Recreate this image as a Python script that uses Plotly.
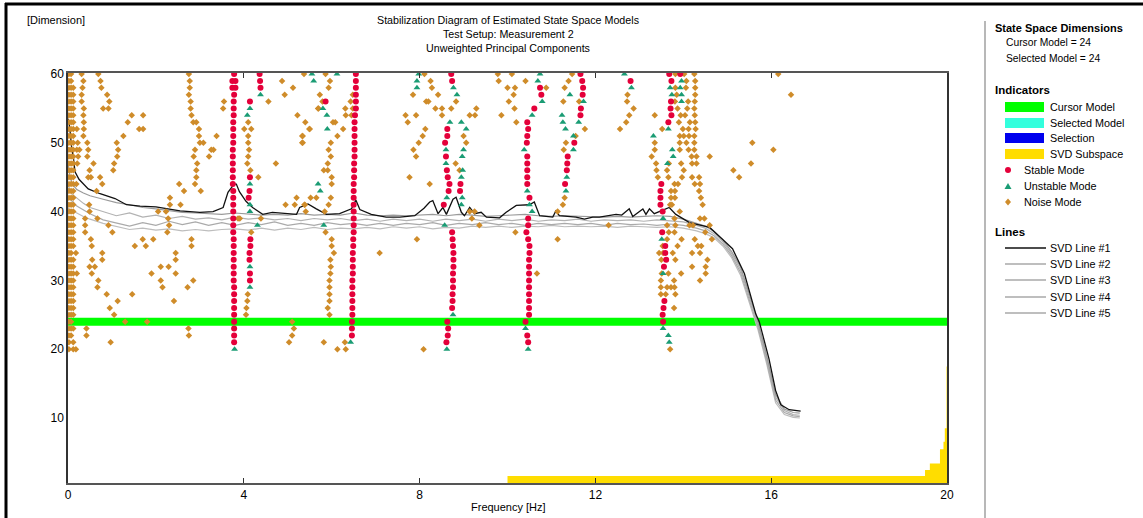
import plotly.graph_objects as go

# ---------------- DATA ----------------
# Stable modes (frequency Hz, model order)
stable_modes = [
    (3.78,60),(3.74,59),(3.81,59),(3.74,58),(3.81,58),(3.78,57),(3.77,56),(3.77,55),(3.77,54),(3.76,53),
    (3.76,52),(3.76,51),(3.76,50),(3.75,49),(3.75,48),(3.75,47),(3.75,46),(3.75,45),(3.75,44),(3.76,43),
    (3.76,42),(3.76,41),(3.76,40),(3.76,39),(3.76,38),(3.76,37),(3.77,36),(3.77,35),(3.77,34),(3.77,33),
    (3.77,32),(3.77,31),(3.77,30),(3.78,29),(3.78,28),(3.78,27),(3.78,26),(3.78,25),(3.78,24),(3.78,23),
    (3.78,22),(3.78,21),
    (4.36,60),(4.37,59),(4.38,58),(4.14,56),(4.14,45),(4.13,43),(4.11,42),(4.15,36),(4.15,35),(4.13,34),
    (4.13,33),(4.14,31),(4.14,30),
    (5.86,56),
    (6.55,60),(6.55,59),(6.55,58),(6.55,57),(6.55,56),(6.55,55),(6.53,54),(6.52,53),(6.52,52),(6.52,51),
    (6.52,50),(6.52,49),(6.52,48),(6.51,47),(6.51,46),(6.51,45),(6.5,44),(6.5,43),(6.5,42),(6.5,41),
    (6.5,40),(6.5,39),(6.5,38),(6.5,37),(6.49,36),(6.49,35),(6.48,34),(6.48,33),(6.48,32),(6.48,31),
    (6.47,30),(6.47,29),(6.47,28),(6.47,27),(6.47,26),(6.47,25),(6.46,24),(6.46,23),(6.46,22),
    (8.72,60),(8.74,59),(8.63,52),(8.63,51),(8.58,50),(8.6,48),(8.62,46),(8.64,45),(8.68,44),(8.66,43),
    (8.55,41),(8.93,44),(8.92,43),(8.74,37),(8.75,36),(8.76,35),(8.77,34),(8.77,33),(8.77,32),(8.76,31),
    (8.76,30),(8.76,29),(8.75,28),(8.75,27),(8.74,26),(8.63,24),(8.65,23),(8.64,22),(8.61,21),
    (10.74,58),(10.77,57),(10.61,55),(10.45,53),(10.47,52),(10.45,51),(10.44,50),(10.45,48),(10.45,47),
    (10.45,46),(10.45,45),(10.45,44),(10.5,42),(10.47,39),(10.47,38),(10.43,37),(10.47,36),(10.5,35),
    (10.5,34),(10.49,33),(10.49,32),(10.49,31),(10.49,30),(10.49,29),(10.49,28),(10.49,27),(10.49,26),
    (10.49,25),(10.41,24),(10.45,22),(10.47,21),
    (11.66,60),(11.7,59),(11.72,58),(11.71,57),(11.67,55),(11.66,54),(11.52,50),(11.37,48),(11.36,47),
    (11.35,46),(11.31,44),
    (13.68,60),(13.93,60),(12.8,59),(13.73,59),(13.72,56),(13.71,55),(13.73,54),(13.66,53),(13.5,44),
    (13.48,43),(13.48,42),(13.48,41),(13.53,40),(13.52,37),(13.59,35),(13.59,34),(13.61,33),(13.56,32),
    (13.57,27),(13.55,26),(13.53,25),(13.54,24),
]

# Unstable modes (frequency Hz, model order)
unstable_modes = [
    (3.79,20),
    (4.38,57),(4.14,55),(4.08,54),(4.14,44),(4.14,41),(4.14,40),(4.31,38),(4.14,32),(4.14,29),
    (5.55,60),(5.59,59),(6.12,60),(5.8,55),(5.89,54),(5.9,52),(5.69,44),(5.74,43),(5.82,38),(6.43,21),
    (7.98,60),(7.94,59),(7.94,58),(8.85,57),(8.77,58),
    (8.69,53),(8.95,53),(9.06,52),(8.6,49),(8.6,47),(9.0,49),(8.97,48),(8.98,46),(8.95,45),(8.97,42),
    (8.95,41),(8.62,42),(8.57,38),(8.76,25),(8.62,20),
    (10.74,60),(10.69,59),(10.79,56),(10.56,54),(10.38,49),(10.45,43),(10.5,41),(10.56,40),(10.41,23),
    (10.47,20),
    (11.42,57),(11.73,56),(11.62,53),(11.5,51),(11.5,49),(11.32,52),(11.26,53),(11.24,54),(11.35,45),
    (11.33,43),
    (12.66,60),(12.82,58),(13.96,59),(13.7,58),(13.93,58),(13.74,57),(13.96,57),(13.96,56),(13.66,52),
    (13.32,51),(13.75,49),(13.77,48),(13.64,47),(13.54,39),(13.51,36),(13.54,31),(13.54,23),(13.66,22),
    (13.68,21),
]

# Noise modes near 0 Hz: three dense columns (frequency, list of orders)
noise_edge_columns = [
    (0.02, [20,21,22,23,24,25,26,27,28,29,30,31,32,33,34,35,36,37,38,39,40,
            41,42,43,44,45,46,47,48,49,50,51,52,53,54,55,56,57,58,59,60]),
    (0.07, [22,23,24,25,26,27,28,29,30,31,32,33,34,35,36,37,38,39,40,
            41,42,43,44,45,46,47,48,49,50,51,52,53,54,55,56,57,58,59,60]),
    (0.12, [20,21,23,25,26,27,28,29,30,31,32,33,35,36,37,38,39,40,
            41,42,43,44,45,46,47,48,49,50,51,52,53,54,55,56,57,58]),
]

# Other noise modes (frequency Hz, model order)
noise_modes = [
    (0.31,60),(0.69,60),(0.35,59),(0.74,59),(0.33,58),(0.76,58),(0.31,57),(0.89,57),(0.31,56),(0.94,56),
    (0.36,55),(0.80,55),(0.92,55),(0.35,54),(1.45,54),(1.71,54),(0.36,53),(1.36,53),(0.36,52),(1.62,52),
    (1.71,52),(0.35,51),(1.26,51),(0.44,50),(1.11,50),(0.26,49),(0.46,49),(1.14,49),(0.23,48),(0.44,48),
    (1.12,48),(0.21,47),(0.58,47),(1.05,47),(0.49,46),(1.03,46),(0.46,45),(0.52,45),(0.73,45),(0.78,44),
    (0.65,43),(0.48,41),(0.49,40),(0.39,39),(0.67,39),(0.39,38),(0.92,38),(0.39,37),(1.01,37),(0.52,36),
    (0.54,35),(0.18,34),(0.78,34),(0.55,33),(0.78,33),(0.49,32),(0.61,32),(0.54,31),(0.69,30),(0.67,29),
    (0.88,28),(1.46,28),(1.13,27),(0.95,26),(1.05,25),(1.3,24),(1.8,24),(0.42,23),(0.42,22),(0.97,21),
    (0.18,20),(0.2,49),(0.22,50),(0.2,52),(0.19,44),(0.2,31),
    (2.53,44),(2.64,43),(2.32,42),(2.32,41),(2.56,41),(2.05,40),(2.23,40),(2.28,39),(2.3,38),(2.26,37),
    (1.7,36),(1.94,36),(1.52,35),(1.77,35),(2.45,34),(2.45,33),(2.11,32),(2.29,32),(1.9,31),(2.45,31),
    (2.11,30),(2.15,29),(2.72,29),(2.41,27),(2.74,23),
    (2.75,60),(2.77,59),(2.77,58),(2.75,57),(2.79,56),(2.79,55),(2.81,54),(2.85,53),(2.92,53),(2.98,52),
    (2.98,51),(3.0,50),(3.08,50),(2.89,49),(2.86,48),(3.21,48),(2.94,47),(2.92,46),(2.92,45),(2.89,44),
    (3.02,43),(3.26,49),(3.31,49),(3.38,51),(3.55,56),(3.53,55),(2.85,30),(2.81,36),(2.81,35),(2.75,22),
    (3.87,39),
    (4.87,59),(4.93,57),(5.12,58),(4.56,56),(5.22,54),(4.73,47),(4.33,45),(4.95,41),(5.16,41),(5.2,42),
    (4.39,39),(5.03,21),(5.1,22),(5.1,24),(5.14,23),(5.37,60),(5.69,55),(5.4,53),(5.49,52),(5.34,51),
    (5.34,50),(5.52,42),(5.65,42),(5.39,41),(4.17,37),
    (4.01,52),(4.1,53),(4.1,51),(4.1,50),(4.12,49),(4.1,48),(4.08,47),(4.15,46),(4.17,52),(4.09,28),
    (4.08,27),(4.06,26),(4.05,25),(3.91,39),
    (5.86,60),(5.96,59),(5.93,58),(5.73,57),(5.79,56),(5.7,55),(5.5,52),(5.33,51),(5.33,50),(5.98,50),
    (5.93,49),(5.98,48),(5.91,47),(5.82,46),(5.91,46),(6.0,45),(6.0,44),(5.98,42),(5.38,41),(5.93,41),
    (5.41,40),(5.84,40),(5.86,37),(6.0,36),(6.0,35),(6.05,34),(5.97,33),(5.98,32),(5.97,31),(5.95,30),
    (5.95,29),(5.95,28),(5.95,27),(5.91,26),(5.95,25),(5.82,21),(6.3,21),(6.13,20),(6.32,20),(7.09,34),
    (6.26,52),(6.13,51),(6.03,53),(6.08,53),(6.31,55),(6.48,55),(6.32,54),(6.45,54),(6.43,56),(6.48,57),
    (8.11,60),(8.25,59),(8.28,58),(7.85,57),(8.42,57),(8.15,56),(8.2,56),(7.68,54),(7.92,54),(7.73,53),
    (8.36,55),(8.51,55),(8.72,55),(8.83,56),(8.13,52),(8.07,51),(7.98,50),(7.86,49),(7.92,48),(7.77,45),
    (8.23,44),(7.94,36),(8.09,20),(8.51,54),(8.82,47),(8.91,46),(9.29,55),(9.14,54),(9.26,54),(9.06,50),
    (9.0,51),(9.36,38),(9.19,39),(9.14,40),(9.25,40),
    (9.78,60),(10.1,60),(9.8,59),(10.0,58),(10.17,58),(10.14,57),(10.03,56),(10.16,55),(9.86,54),(10.2,53),
    (10.41,59),(10.88,58),(11.47,60),(11.39,59),(11.3,58),(11.63,56),(11.27,56),(11.76,52),(11.55,51),
    (11.33,50),(11.28,49),(11.3,42),(11.26,41),(11.14,40),(11.14,36),(10.67,31),(10.18,37),
    (14.25,60),(14.27,59),(14.27,58),(14.27,57),(14.26,56),(14.25,55),(14.26,54),(14.27,53),(14.28,52),
    (14.25,51),(14.25,50),(14.25,49),(14.3,48),(14.3,47),(14.36,45),(14.38,44),(14.36,43),(14.4,42),
    (14.44,41),(14.48,39),
    (14.02,60),(14.07,59),(14.06,58),(14.11,56),(14.09,55),(14.04,54),(14.15,53),(14.12,52),(14.13,51),
    (14.07,50),(14.12,49),(14.19,48),(14.2,47),(14.2,45),(14.26,44),
    (13.82,60),(13.82,58),(13.85,57),(13.81,56),(13.87,55),(13.94,54),(13.9,53),(13.99,52),(13.92,51),
    (14.01,51),(13.92,50),(13.92,49),(13.95,47),(14.01,46),(13.97,45),(13.8,44),(13.88,44),(13.72,43),
    (13.81,43),(13.72,42),(13.81,42),(13.7,41),(13.74,41),(13.92,40),(13.8,39),(13.82,38),(13.8,37),
    (13.96,36),(13.87,35),(13.76,34),(13.82,33),(13.95,31),(13.79,30),(13.72,29),(13.8,29),(13.82,28),
    (13.79,26),
    (13.67,47),(13.63,46),(13.66,45),(13.63,38),(13.67,37),(13.63,36),(13.54,34),(13.66,31),(13.63,29),
    (13.6,28),
    (13.35,54),(13.52,52),(13.35,50),(13.35,49),(13.28,48),(13.38,47),(13.39,46),(13.42,45),(13.45,34),
    (13.5,33),(13.53,35),(13.49,30),(13.49,29),(13.49,28),(13.51,31),
    (14.5,37),(14.65,36),(14.6,38),(14.55,33),(14.51,32),(14.51,31),(14.38,30),(14.38,34),(14.2,34),
    (14.2,32),(14.33,35),(14.41,35),(14.26,36),(14.22,38),(14.14,38),(14.38,39),
    (16.16,60),(16.45,57),(15.57,50),(16.05,49),(15.54,47),(15.14,46),(15.27,45),(14.6,48),
    (12.3,38),(12.56,52),(12.7,53),(12.72,56),(12.87,55),(12.73,57),(12.77,54),(13.7,20),
]

# SVD lines
svd1_freq = [0.0,0.02,0.05,0.08,0.12,0.16,0.25,0.46,0.73,1.07,1.33,1.64,2.0,2.24,2.55,3.0,3.3,3.53,3.64,
             3.78,3.83,3.9,4.05,4.2,4.43,4.65,4.95,5.2,5.27,5.46,5.65,5.88,6.18,6.45,6.55,6.64,6.9,7.24,
             7.55,7.89,8.1,8.23,8.3,8.42,8.53,8.61,8.76,8.83,8.95,9.02,9.14,9.25,9.4,9.52,9.82,9.97,10.2,
             10.5,10.61,10.73,11.03,11.1,11.18,11.56,11.75,11.94,12.09,12.47,12.6,12.77,12.85,13.08,13.15,
             13.23,13.34,13.49,13.68,13.83,14.14,14.6,14.78,14.97,15.12,15.39,15.65,15.73,15.95,16.1,16.22,
             16.41,16.67]
svd1_vals = [53.5,53.2,51.5,49.5,48.0,45.8,44.7,43.3,42.6,41.9,41.0,40.8,40.7,40.4,40.1,39.9,40.0,40.6,42.8,
             44.0,44.0,42.9,41.5,40.6,39.6,39.9,39.7,39.6,40.6,41.1,40.4,39.6,39.7,40.4,41.7,40.3,39.6,39.2,
             39.2,39.4,40.5,41.4,41.6,39.7,40.6,39.6,41.8,42.1,39.9,39.4,40.6,39.7,39.9,39.2,39.1,39.9,40.9,
             41.0,41.4,39.4,39.2,40.1,39.4,39.2,38.9,39.2,39.2,39.6,39.5,40.4,39.3,40.4,39.6,
             40.4,39.7,40.1,40.6,39.6,38.4,37.7,36.7,35.5,34.6,31.0,25.1,23.96,18.6,14.0,11.9,
             11.2,11.0]

svd_grid = [0,0.05,0.1,0.2,0.35,0.5,0.8,1.1,1.4,1.7,2.0,2.3,2.6,2.9,3.2,3.5,3.8,4.1,4.4,4.7,5.0,5.3,5.6,5.9,
            6.2,6.5,6.8,7.1,7.4,7.7,8.0,8.3,8.6,8.9,9.2,9.5,9.8,10.1,10.4,10.7,11.0,11.3,11.6,11.9,12.2,
            12.5,12.8,13.1,13.4,13.7,14.0,14.3,14.5,14.7,14.9,15.1,15.3,15.5,15.7,15.9,16.1,16.3,16.5,16.65]
svd2_vals = [47.0,45.0,44.0,43.2,42.7,42.3,41.8,41.3,41.0,40.6,40.4,40.1,39.9,39.8,39.7,39.6,
             39.8,39.6,39.5,39.6,39.5,39.7,39.5,39.6,39.5,39.8,39.5,39.4,39.5,39.4,39.5,39.6,39.4,39.6,
             39.5,39.3,39.4,39.5,39.6,39.4,39.3,39.4,39.3,39.3,39.2,39.3,39.2,39.3,39.4,39.3,38.9,38.3,
             37.9,37.1,35.9,34.2,32.0,28.0,24.0,19.0,13.4,11.3,10.8,10.7]
svd3_vals = [44.0,43.0,42.5,42.0,41.2,40.6,40.0,39.4,39.8,39.2,39.5,39.0,39.3,38.9,39.1,38.8,
             39.2,38.9,39.1,38.8,39.0,38.7,39.0,38.8,39.0,38.7,38.9,38.6,38.9,38.7,38.9,38.6,38.9,38.7,
             38.9,38.6,38.9,38.7,38.9,38.6,38.8,38.7,38.9,38.6,38.8,38.7,38.8,38.6,38.8,38.7,38.5,38.0,
             37.6,36.8,35.6,33.9,31.6,27.6,23.6,18.6,13.0,11.1,10.5,10.4]
svd4_vals = [42.0,41.8,41.5,40.8,40.2,39.7,38.8,38.3,37.9,38.4,38.0,38.6,38.1,38.5,38.0,38.4,
             38.0,38.4,38.1,38.5,38.0,38.3,38.0,38.4,38.1,38.3,38.0,38.3,38.0,38.3,38.1,38.4,38.0,38.3,
             38.1,38.4,38.1,38.3,38.0,38.3,38.1,38.3,38.1,38.3,38.0,38.3,38.1,38.2,38.0,38.2,38.0,37.6,
             37.2,36.5,35.3,33.6,31.2,27.2,23.2,18.2,12.6,10.8,10.3,10.2]
svd5_vals = [40.5,40.3,40.1,39.8,39.3,38.9,38.3,37.8,37.4,37.6,37.3,37.5,37.2,37.4,37.2,37.4,
             37.5,37.3,37.6,37.3,37.6,37.4,37.7,37.4,37.6,37.5,37.7,37.5,37.8,37.6,37.8,37.5,37.7,37.6,
             37.9,37.7,37.9,37.7,37.9,37.8,38.0,37.8,37.9,37.8,37.9,37.7,37.9,37.8,37.7,37.8,37.6,37.2,
             36.8,36.2,35.0,33.3,30.8,26.8,22.8,17.8,12.2,10.5,10.1,10.0]

# SVD subspace (step heights)
subspace_freq = [10.0, 19.5, 19.61, 19.84, 19.92, 19.95, 19.99, 20.0]
subspace_vals = [1.57, 2.44, 3.4, 5.45, 6.55, 8.5, 17.5, 17.5]

cursor_model = 24
selected_model = 24

x_ticks = [0, 4, 8, 12, 16, 20]
y_ticks = [10, 20, 30, 40, 50, 60]

# ---------------- STYLE / LAYOUT ----------------
W, H = 1143, 518
PL, PR, PT, PB = 68, 947, 73, 483
FONT = "Arial, Liberation Sans, sans-serif"
C_RED = "#E4003A"
C_GREEN = "#1A9C74"
C_NOISE = "#CF8C2A"

def px(x):
    return (x - PL) / (PR - PL)

def py(y):
    return (PB - y) / (PB - PT)

fig = go.Figure()

# SVD subspace (yellow)
fig.add_trace(go.Scatter(x=subspace_freq, y=subspace_vals, mode="lines", line=dict(width=0, shape="hv"),
                         fill="tozeroy", fillcolor="#FFDD00", hoverinfo="skip"))

# SVD lines
gray_cols = ["#bdbdbd", "#aaaaaa", "#b2b2b2", "#9a9a9a"]
for vals, col in zip([svd5_vals, svd4_vals, svd3_vals, svd2_vals], gray_cols):
    fig.add_trace(go.Scatter(x=svd_grid, y=vals, mode="lines", line=dict(color=col, width=1.2)))
fig.add_trace(go.Scatter(x=svd1_freq, y=svd1_vals, mode="lines", line=dict(color="#111111", width=1.3)))

# modes
nf = [f for f, col in noise_edge_columns for _ in col] + [p[0] for p in noise_modes]
nn = [n for f, col in noise_edge_columns for n in col] + [p[1] for p in noise_modes]
fig.add_trace(go.Scatter(x=nf, y=nn, mode="markers",
                         marker=dict(symbol="diamond", size=5, color=C_NOISE)))
fig.add_trace(go.Scatter(x=[p[0] for p in unstable_modes], y=[p[1] for p in unstable_modes], mode="markers",
                         marker=dict(symbol="triangle-up", size=6, color=C_GREEN)))
fig.add_trace(go.Scatter(x=[p[0] for p in stable_modes], y=[p[1] for p in stable_modes], mode="markers",
                         marker=dict(symbol="circle", size=6, color=C_RED)))

shapes = []
# cursor model band
shapes.append(dict(type="rect", xref="x", yref="y", x0=0, x1=20, y0=cursor_model - 0.58,
                   y1=cursor_model + 0.58, fillcolor="#00FF00", line=dict(width=0), layer="below"))

# outer frame and separator
shapes.append(dict(type="line", xref="paper", yref="paper", x0=px(5), x1=px(1150), y0=py(4), y1=py(4),
                   line=dict(color="black", width=3)))
shapes.append(dict(type="line", xref="paper", yref="paper", x0=px(6), x1=px(6), y0=py(3), y1=py(525),
                   line=dict(color="black", width=3)))
shapes.append(dict(type="line", xref="paper", yref="paper", x0=px(985), x1=px(985), y0=py(21), y1=py(525),
                   line=dict(color="#a0a0a0", width=1.5)))

ann = []
def text(x, y, s, size=11, bold=False, anchor="left"):
    ann.append(dict(xref="paper", yref="paper", x=px(x), y=py(y), text=("<b>%s</b>" % s) if bold else s,
                    showarrow=False, xanchor=anchor, yanchor="middle",
                    font=dict(family=FONT, size=size, color="black")))

# titles
text(25, 20, "[Dimension]", 11)
text(508, 20, "Stabilization Diagram of Estimated State Space Models", 10.7, anchor="center")
text(508, 34, "Test Setup: Measurement 2", 10.7, anchor="center")
text(508, 48, "Unweighted Principal Components", 10.7, anchor="center")
text(508, 507, "Frequency [Hz]", 11, anchor="center")

# side legend
text(993, 28, "State Space Dimensions", 11, bold=True)
text(1004, 43, "Cursor Model = %d" % cursor_model, 10.3)
text(1004, 59, "Selected Model = %d" % selected_model, 10.3)
text(993, 90, "Indicators", 11.5, bold=True)
sw = [("#00FF00", "Cursor Model", 107), ("#33FFDD", "Selected Model", 123),
      ("#0000EE", "Selection", 138), ("#FFDD00", "SVD Subspace", 154)]
for col, lab, yy in sw:
    shapes.append(dict(type="rect", xref="paper", yref="paper", x0=px(1005), x1=px(1044),
                       y0=py(yy + 5), y1=py(yy - 5), fillcolor=col, line=dict(width=0)))
    text(1048, yy, lab, 10.8)
# stable
shapes.append(dict(type="circle", xref="paper", yref="paper", x0=px(1005), x1=px(1011),
                   y0=py(173), y1=py(167), fillcolor=C_RED, line=dict(width=0)))
text(1022, 170, "Stable Mode", 10.8)
shapes.append(dict(type="path", xref="paper", yref="paper",
                   path="M %f,%f L %f,%f L %f,%f Z" % (px(1008), py(183), px(1004.5), py(189), px(1011.5), py(189)),
                   fillcolor=C_GREEN, line=dict(width=0)))
text(1022, 186, "Unstable Mode", 10.8)
shapes.append(dict(type="path", xref="paper", yref="paper",
                   path="M %f,%f L %f,%f L %f,%f L %f,%f Z" % (px(1008), py(198.5), px(1011), py(202),
                                                               px(1008), py(205.5), px(1005), py(202)),
                   fillcolor=C_NOISE, line=dict(width=0)))
text(1022, 202, "Noise Mode", 10.8)
text(993, 232, "Lines", 11.5, bold=True)
for i, yy in enumerate([248, 264, 280, 297, 313]):
    shapes.append(dict(type="line", xref="paper", yref="paper", x0=px(1005), x1=px(1046), y0=py(yy), y1=py(yy),
                       line=dict(color="#111111" if i == 0 else "#a8a8a8", width=1.3)))
    text(1048, yy, "SVD Line #%d" % (i + 1), 10.8)

fig.update_layout(
    width=W, height=H,
    margin=dict(l=PL, r=W - PR, t=PT, b=H - PB, pad=0),
    paper_bgcolor="white", plot_bgcolor="white",
    showlegend=False,
    shapes=shapes, annotations=ann,
    font=dict(family=FONT, size=12, color="black"),
    xaxis=dict(range=[0, 20], tickvals=x_ticks, ticks="inside", ticklen=5, tickcolor="#333",
               showline=True, mirror="ticks", linecolor="#555", linewidth=1.5, showgrid=False,
               zeroline=False, tickfont=dict(family=FONT, size=12)),
    yaxis=dict(range=[0.55, 60.15], tickvals=y_ticks, ticks="", showline=True, mirror=True,
               linecolor="#333", linewidth=1.5, showgrid=False, zeroline=False,
               tickfont=dict(family=FONT, size=12)),
)

fig.write_html("out.html", config={"displayModeBar": False},
               post_script="document.body.style.margin='0px';document.body.style.overflow='hidden';")
